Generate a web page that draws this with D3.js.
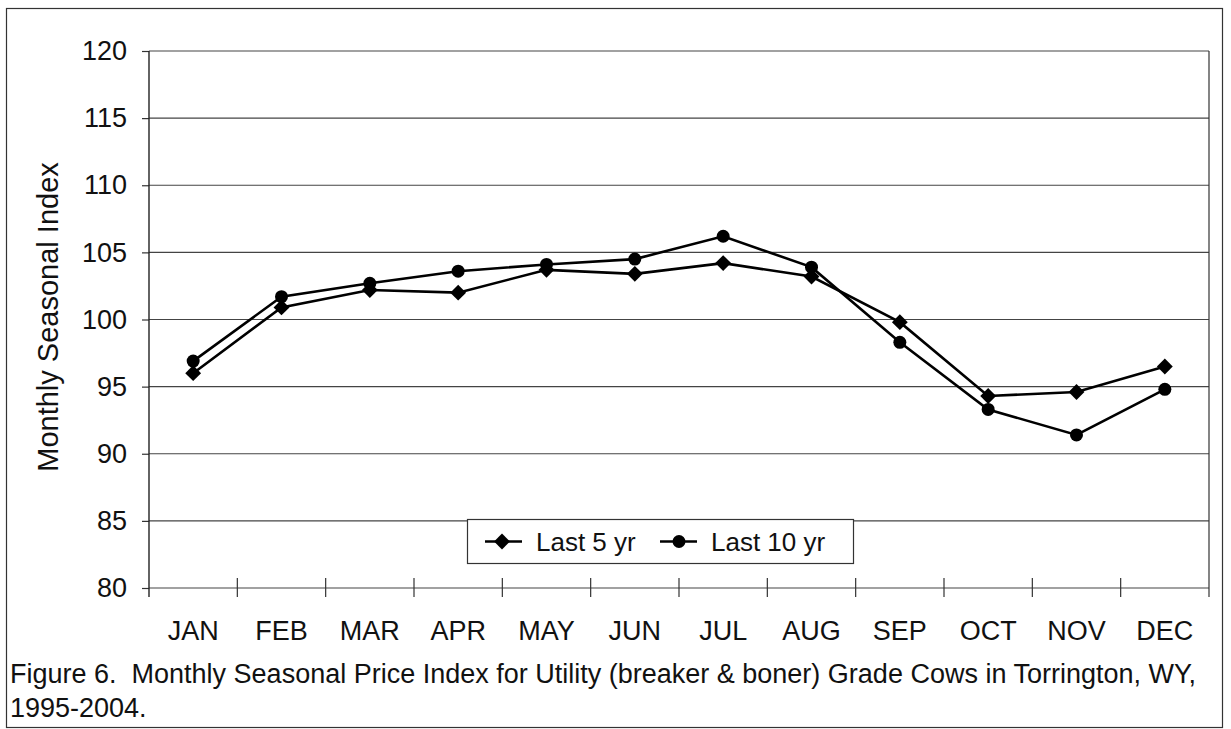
<!DOCTYPE html>
<html>
<head>
<meta charset="utf-8">
<script src="https://cdn.jsdelivr.net/npm/d3@7"></script>
<style>
  body { margin: 0; background: #fff; }
  text { font-family: "Liberation Sans", Arial, sans-serif; fill: #111; }
</style>
</head>
<body>
<script>
// data
const months = ['JAN', 'FEB', 'MAR', 'APR', 'MAY', 'JUN', 'JUL', 'AUG', 'SEP', 'OCT', 'NOV', 'DEC'];
const last5 = [96.0, 100.9, 102.2, 102.0, 103.7, 103.4, 104.2, 103.2, 99.8, 94.3, 94.6, 96.5];
const last10 = [96.9, 101.7, 102.7, 103.6, 104.1, 104.5, 106.2, 103.9, 98.3, 93.3, 91.4, 94.8];
const yTicks = [80, 85, 90, 95, 100, 105, 110, 115, 120];

const W = 1231, H = 729;
const plotLeft = 149, plotRight = 1209, plotTop = 51, plotBottom = 588;

const svg = d3.select('body').append('svg')
    .attr('width', W)
    .attr('height', H);

// outer frame
svg.append('rect')
    .attr('x', 6.5).attr('y', 8.5)
    .attr('width', 1216).attr('height', 719)
    .attr('fill', 'none')
    .attr('stroke', '#333')
    .attr('stroke-width', 1.2);

const x = d3.scaleBand().domain(months).range([plotLeft, plotRight]);
const y = d3.scaleLinear().domain([80, 120]).range([plotBottom, plotTop]);

// gridlines
svg.append('g')
    .selectAll('line')
    .data(yTicks)
    .enter()
    .append('line')
    .attr('x1', plotLeft).attr('x2', plotRight)
    .attr('y1', d => y(d)).attr('y2', d => y(d))
    .attr('stroke', '#444')
    .attr('stroke-width', 1.2);

// right edge of plot area
svg.append('line')
    .attr('x1', plotRight).attr('x2', plotRight)
    .attr('y1', plotTop).attr('y2', plotBottom + 9)
    .attr('stroke', '#333')
    .attr('stroke-width', 1.2);

// y axis
const yAxis = svg.append('g')
    .attr('transform', `translate(${plotLeft},0)`)
    .call(d3.axisLeft(y).tickValues(yTicks).tickSize(7).tickPadding(15));
yAxis.select('.domain').remove();
yAxis.append('line')
    .attr('x1', 0).attr('x2', 0)
    .attr('y1', plotTop).attr('y2', plotBottom + 9)
    .attr('stroke', '#222').attr('stroke-width', 1.4);
yAxis.selectAll('.tick line').attr('stroke', '#333').attr('stroke-width', 1.2);
yAxis.selectAll('.tick text')
    .attr('font-size', 27)
    .attr('font-family', '"Liberation Sans", Arial, sans-serif')
    .attr('fill', '#111');

// x axis: crossing tick marks at category boundaries
const bounds = months.slice(1).map(m => x(m));
svg.append('g')
    .selectAll('line')
    .data(bounds)
    .enter()
    .append('line')
    .attr('x1', d => d).attr('x2', d => d)
    .attr('y1', plotBottom - 10).attr('y2', plotBottom + 9)
    .attr('stroke', '#333')
    .attr('stroke-width', 1.2);

svg.append('g')
    .selectAll('text')
    .data(months)
    .enter()
    .append('text')
    .attr('x', d => x(d) + x.bandwidth() / 2)
    .attr('y', 640)
    .attr('text-anchor', 'middle')
    .attr('font-size', 27)
    .text(d => d);

// y title
svg.append('text')
    .attr('transform', 'translate(58,317) rotate(-90)')
    .attr('text-anchor', 'middle')
    .attr('font-size', 29)
    .text('Monthly Seasonal Index');

// series
const cx = (d, i) => x(months[i]) + x.bandwidth() / 2;
const line = d3.line().x(cx).y(d => y(d));

svg.append('path')
    .datum(last5)
    .attr('d', line)
    .attr('fill', 'none')
    .attr('stroke', '#000')
    .attr('stroke-width', 2.6);
svg.append('path')
    .datum(last10)
    .attr('d', line)
    .attr('fill', 'none')
    .attr('stroke', '#000')
    .attr('stroke-width', 2.6);

const diamond = d3.symbol().type(d3.symbolDiamond2).size(160);

svg.append('g')
    .selectAll('path')
    .data(last5)
    .enter()
    .append('path')
    .attr('d', diamond)
    .attr('transform', (d, i) => `translate(${cx(d, i)},${y(d)})`)
    .attr('fill', '#000');

svg.append('g')
    .selectAll('circle')
    .data(last10)
    .enter()
    .append('circle')
    .attr('cx', cx)
    .attr('cy', d => y(d))
    .attr('r', 6.5)
    .attr('fill', '#000');

// legend
const legend = svg.append('g');
legend.append('rect')
    .attr('x', 467.5).attr('y', 519.5)
    .attr('width', 386).attr('height', 44)
    .attr('fill', '#fff')
    .attr('stroke', '#333')
    .attr('stroke-width', 1.2);

const legendItems = [
    { name: 'Last 5 yr', x0: 485, kind: 'diamond' },
    { name: 'Last 10 yr', x0: 660, kind: 'circle' }
];
legendItems.forEach(item => {
    const ly = 541.5;
    legend.append('line')
        .attr('x1', item.x0).attr('x2', item.x0 + 37)
        .attr('y1', ly).attr('y2', ly)
        .attr('stroke', '#000').attr('stroke-width', 2.6);
    if (item.kind === 'diamond') {
        legend.append('path')
            .attr('d', diamond)
            .attr('transform', `translate(${item.x0 + 17},${ly})`)
            .attr('fill', '#000');
    } else {
        legend.append('circle')
            .attr('cx', item.x0 + 19).attr('cy', ly).attr('r', 6.5)
            .attr('fill', '#000');
    }
    legend.append('text')
        .attr('x', item.x0 + 51)
        .attr('y', ly + 9.5)
        .attr('font-size', 26)
        .text(item.name);
});

// caption
svg.append('text')
    .attr('x', 10)
    .attr('y', 683)
    .attr('font-size', 27)
    .attr('xml:space', 'preserve')
    .text('Figure 6.  Monthly Seasonal Price Index for Utility (breaker & boner) Grade Cows in Torrington, WY,');
svg.append('text')
    .attr('x', 10)
    .attr('y', 717)
    .attr('font-size', 27)
    .text('1995-2004.');
</script>
</body>
</html>
